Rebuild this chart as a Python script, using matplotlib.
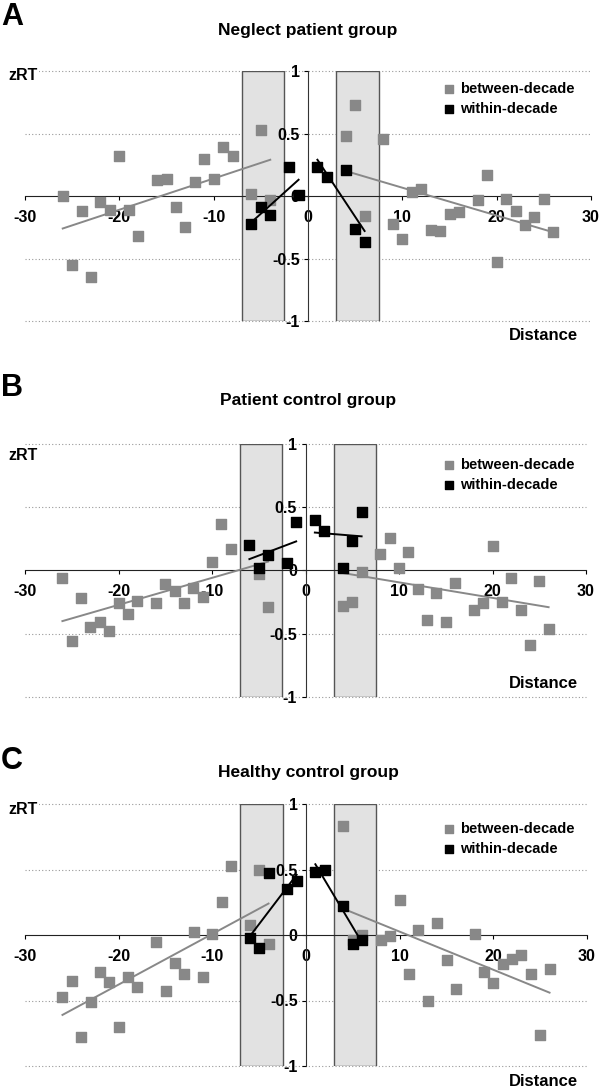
import numpy as np
import matplotlib
matplotlib.use("Agg")
import matplotlib.pyplot as plt
from matplotlib.patches import Rectangle

plt.rcParams['font.family'] = ['Liberation Sans', 'DejaVu Sans']
plt.rcParams['font.weight'] = 'bold'

GRAY = '#888888'

titles = ["Neglect patient group", "Patient control group", "Healthy control group"]
letters = ["A", "B", "C"]

# between-decade distances
dist_left = [-26, -25, -24, -23, -22, -21, -20, -19, -18, -16, -15, -14, -13, -12, -11, -10, -9, -8, -6, -5, -4]
dist_left_b = [-26, -25, -24, -23, -22, -21, -20, -19, -18, -16, -15, -14, -13, -12, -11, -10, -9, -8, -5, -4]
dist_right = [4, 5, 6, 8, 9, 10, 11, 12, 13, 14, 15, 16, 18, 19, 20, 21, 22, 23, 24, 25, 26]
# within-decade distances
dist_within = [-6, -5, -4, -2, -1, 1, 2, 4, 5, 6]

# panel A: neglect patients
a_between_left = [0.00, -0.55, -0.12, -0.65, -0.05, -0.11, 0.32, -0.11, -0.32, 0.13, 0.14,
                  -0.09, -0.25, 0.11, 0.30, 0.14, 0.39, 0.32, 0.02, 0.53, -0.03]
a_between_right = [0.48, 0.73, -0.16, 0.46, -0.22, -0.34, 0.03, 0.06, -0.27, -0.28, -0.14,
                   -0.13, -0.03, 0.17, -0.53, -0.02, -0.12, -0.23, -0.17, -0.02, -0.29]
a_within = [-0.22, -0.09, -0.15, 0.23, 0.01, 0.23, 0.15, 0.21, -0.26, -0.37]

# panel B: patient controls
b_between_left = [-0.06, -0.56, -0.22, -0.45, -0.41, -0.48, -0.26, -0.34, -0.24, -0.26,
                  -0.11, -0.16, -0.26, -0.14, -0.21, 0.07, 0.37, 0.17, -0.03, -0.29]
b_between_right = [-0.28, -0.25, -0.01, 0.13, 0.26, 0.02, 0.15, -0.15, -0.39, -0.18, -0.41,
                   -0.10, -0.31, -0.26, 0.19, -0.25, -0.06, -0.31, -0.59, -0.08, -0.46]
b_within = [0.20, 0.02, 0.12, 0.06, 0.38, 0.40, 0.31, 0.02, 0.23, 0.46]

# panel C: healthy controls
c_between_left = [-0.47, -0.35, -0.78, -0.51, -0.28, -0.36, -0.70, -0.32, -0.40, -0.05, -0.43,
                  -0.21, -0.30, 0.02, -0.32, 0.01, 0.25, 0.53, 0.08, 0.50, -0.07]
c_between_right = [0.83, -0.04, 0.00, -0.04, -0.01, 0.27, -0.30, 0.04, -0.50, 0.09, -0.19,
                   -0.41, 0.01, -0.28, -0.37, -0.22, -0.18, -0.15, -0.30, -0.76, -0.26]
c_within = [-0.02, -0.10, 0.47, 0.35, 0.41, 0.48, 0.50, 0.22, -0.07, -0.04]

# trend line end points (x0, x1, y0, y1)
a_fits = {"bl": [-26, -4, -0.26, 0.29], "br": [4, 26, 0.20, -0.29],
          "wl": [-6, -1, -0.21, 0.13], "wr": [1, 6, 0.29, -0.28]}
b_fits = {"bl": [-26, -4, -0.40, 0.07], "br": [4, 26, -0.02, -0.29],
          "wl": [-6, -1, 0.09, 0.23], "wr": [1, 6, 0.30, 0.27]}
c_fits = {"bl": [-26, -4, -0.61, 0.24], "br": [4, 26, 0.20, -0.44],
          "wl": [-6, -1, -0.01, 0.46], "wr": [1, 6, 0.54, -0.06]}

panels = [
    (dist_left, a_between_left, a_between_right, a_within, a_fits),
    (dist_left_b, b_between_left, b_between_right, b_within, b_fits),
    (dist_left, c_between_left, c_between_right, c_within, c_fits),
]

# pixel layout of each plotting area: x_left, x_right, y_top, y_bottom
W, H = 600, 1092
areas = [(25, 591, 71, 321), (25, 586, 444, 697), (25, 587, 804, 1066)]
letter_y = [17, 388, 761]
title_y = [30, 401, 773]
zrt_y = [75, 455, 810]
legend_y = [88, 464, 828]
dist_y = [335, 683, 1081]

fig = plt.figure(figsize=(W / 100, H / 100), dpi=100)

for i, (dl, bl, br, wi, fits) in enumerate(panels):
    x0, x1, y0, y1 = areas[i]
    ax = fig.add_axes([x0 / W, 1 - y1 / H, (x1 - x0) / W, (y1 - y0) / H])
    ax.set_xlim(-30, 30)
    ax.set_ylim(-1, 1)

    for gy in [-1, -0.5, 0.5, 1]:
        ax.axhline(gy, color='#999999', lw=0.8, ls=(0, (1, 2)), zorder=0, clip_on=False)

    for bx in [-7, 3]:
        ax.add_patch(Rectangle((bx, -1), 4.5, 2, facecolor='#e2e2e2',
                               edgecolor='#555555', lw=1.0, zorder=1))

    ax.spines['left'].set_position(('data', 0))
    ax.spines['bottom'].set_position(('data', 0))
    ax.spines['right'].set_visible(False)
    ax.spines['top'].set_visible(False)
    ax.spines['left'].set_color('#333333')
    ax.spines['bottom'].set_color('#222222')
    ax.spines['left'].set_zorder(2)
    ax.spines['bottom'].set_zorder(2)

    ax.set_xticks([-30, -20, -10, 0, 10, 20, 30])
    ax.set_xticklabels(['-30', '-20', '-10', '0', '10', '20', '30'])
    ax.set_yticks([-1, -0.5, 0, 0.5, 1])
    ax.set_yticklabels(['-1', '-0.5', '0', '0.5', '1'])
    ax.tick_params(axis='x', direction='out', length=3, width=0.8, pad=7, labelsize=11.5)
    ax.tick_params(axis='y', direction='out', length=3, width=0.8, pad=3, labelsize=11.5)
    for lab in ax.get_xticklabels() + ax.get_yticklabels():
        lab.set_fontweight('bold')

    ax.plot(fits["bl"][:2], fits["bl"][2:], color=GRAY, lw=1.4, zorder=3)
    ax.plot(fits["br"][:2], fits["br"][2:], color=GRAY, lw=1.4, zorder=3)
    ax.scatter(dl, bl, marker='s', s=46, color=GRAY, zorder=4, label='between-decade')
    ax.scatter(dist_right, br, marker='s', s=46, color=GRAY, zorder=4)
    ax.scatter(dist_within, wi, marker='s', s=46, color='black', zorder=5, label='within-decade')
    ax.plot(fits["wl"][:2], fits["wl"][2:], color='black', lw=1.4, zorder=6)
    ax.plot(fits["wr"][:2], fits["wr"][2:], color='black', lw=1.4, zorder=6)

    leg = ax.legend(loc='center left', frameon=False, fontsize=10.5, handletextpad=0.35,
                    handlelength=0.8, markerscale=0.85, labelspacing=0.45,
                    borderaxespad=0, borderpad=0,
                    bbox_to_anchor=((443 - x0) / (x1 - x0), 1 - (legend_y[i] + 11 - y0) / (y1 - y0)))
    for t in leg.get_texts():
        t.set_fontweight('bold')

    fig.text(1 / W, 1 - letter_y[i] / H, letters[i], fontsize=22, fontweight='bold',
             ha='left', va='center')
    fig.text(308 / W, 1 - title_y[i] / H, titles[i], fontsize=12.5, fontweight='bold',
             ha='center', va='center')
    fig.text(8 / W, 1 - zrt_y[i] / H, 'zRT', fontsize=11.5, fontweight='bold',
             ha='left', va='center',
             bbox=dict(facecolor='white', edgecolor='none', pad=1))
    fig.text(578 / W, 1 - dist_y[i] / H, 'Distance', fontsize=12, fontweight='bold',
             ha='right', va='center')

fig.savefig('out.png', dpi=100)
